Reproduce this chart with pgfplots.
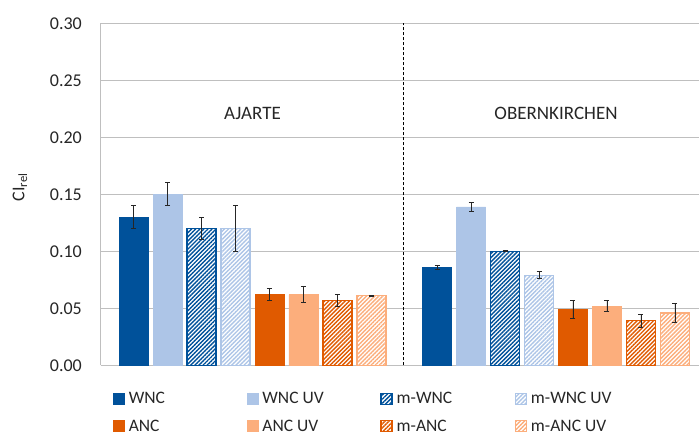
\documentclass[border=0pt]{standalone}
\usepackage{fontspec}
\setmainfont{Carlito}
\usepackage{pgfplots}
\pgfplotsset{compat=1.18}
\usetikzlibrary{patterns.meta}

\definecolor{wnc}{RGB}{0,81,154}
\definecolor{wncuv}{RGB}{173,197,231}
\definecolor{anc}{RGB}{224,90,0}
\definecolor{ancuv}{RGB}{252,174,124}
\definecolor{gridgray}{RGB}{191,191,191}
\definecolor{txt}{RGB}{38,38,38}

\tikzset{
  solidbar/.style={fill=#1, draw=#1, line width=0.6pt},
  hatchbar/.style={fill=white, draw=#1, line width=1.3pt,
    postaction={pattern={Lines[angle=45,distance=2.9pt,line width=1.4pt]}, pattern color=#1}},
}

\begin{document}
\begin{tikzpicture}[font=\fontsize{17}{20}\selectfont, text=txt]
\useasboundingbox (-101pt,-71.7pt) rectangle (598pt,365.3pt);
\begin{axis}[
  at={(0,0)}, anchor=south west,
  scale only axis, width=598pt, height=342pt,
  xmin=-0.4992, xmax=1.4712, ymin=0, ymax=0.30,
  xtick=\empty,
  ytick={0,0.05,0.10,0.15,0.20,0.25,0.30},
  yticklabel style={font=\fontsize{18}{21}\selectfont, text=txt, inner sep=0pt, xshift=-19pt,
    /pgf/number format/.cd, fixed, fixed zerofill, precision=2, assume math mode=true},
  ytick style={draw=none},
  axis x line*=bottom, axis y line*=left,
  axis line style={gridgray, line width=1pt},
  ymajorgrids, major grid style={gridgray, line width=1pt},
  ybar, bar width=0.0955, bar shift=0pt,
  error bars/y dir=both, error bars/y explicit,
  error bars/error bar style={line width=0.9pt, black!85},
  error bars/error mark options={line width=0.9pt, mark size=2.5pt, rotate=90, black!85},
  legend columns=4,
  legend cell align=left,
  legend image code/.code={\draw[#1] (0pt,-5.5pt) rectangle (11pt,5.5pt);},
  legend style={at={(0,0)}, anchor=north west, xshift=12pt, yshift=-27pt,
    draw=none, fill=none, inner sep=0pt, row sep=14.5pt,
    font=\fontsize{17.5}{20}\selectfont, text=txt,
    nodes={inner sep=0pt},
    /tikz/every odd column/.append style={column sep=4pt}},
]
% AJARTE at x = 0, OBERNKIRCHEN at x = 1
\addplot[solidbar=wnc] coordinates {(-0.392,0.130) +- (0,0.010) (0.608,0.086) +- (0,0.002)};
\addplot[solidbar=wncuv] coordinates {(-0.280,0.150) +- (0,0.010) (0.720,0.139) +- (0,0.004)};
\addplot[hatchbar=wnc] coordinates {(-0.168,0.120) +- (0,0.010) (0.832,0.100) +- (0,0.0005)};
\addplot[hatchbar=wncuv] coordinates {(-0.056,0.120) +- (0,0.020) (0.944,0.079) +- (0,0.003)};
\addplot[solidbar=anc] coordinates {(0.056,0.062) +- (0,0.005) (1.056,0.049) +- (0,0.008)};
\addplot[solidbar=ancuv] coordinates {(0.168,0.062) +- (0,0.007) (1.168,0.052) +- (0,0.005)};
\addplot[hatchbar=anc] coordinates {(0.280,0.057) +- (0,0.005) (1.280,0.039) +- (0,0.006)};
\addplot[hatchbar=ancuv] coordinates {(0.392,0.061) +- (0,0.0005) (1.392,0.046) +- (0,0.008)};
\legend{\makebox[118pt][l]{WNC}, \makebox[118pt][l]{WNC UV}, \makebox[118pt][l]{m-WNC}, \makebox[118pt][l]{m-WNC UV},
        \makebox[118pt][l]{ANC}, \makebox[118pt][l]{ANC UV}, \makebox[118pt][l]{m-ANC}, \makebox[118pt][l]{m-ANC UV}}
\draw[black, line width=1pt, dash pattern=on 3pt off 2pt] (axis cs:0.496,0) -- (axis cs:0.496,0.30);
\node[font=\fontsize{19}{22}\selectfont] at (axis cs:0,0.2213) {AJARTE};
\node[font=\fontsize{19}{22}\selectfont] at (axis cs:1,0.2213) {OBERNKIRCHEN};
\end{axis}
% y axis title
\node[rotate=90, font=\fontsize{18}{21}\selectfont] at (-81pt,178pt) {CI\textsubscript{rel}};
\end{tikzpicture}
\end{document}
